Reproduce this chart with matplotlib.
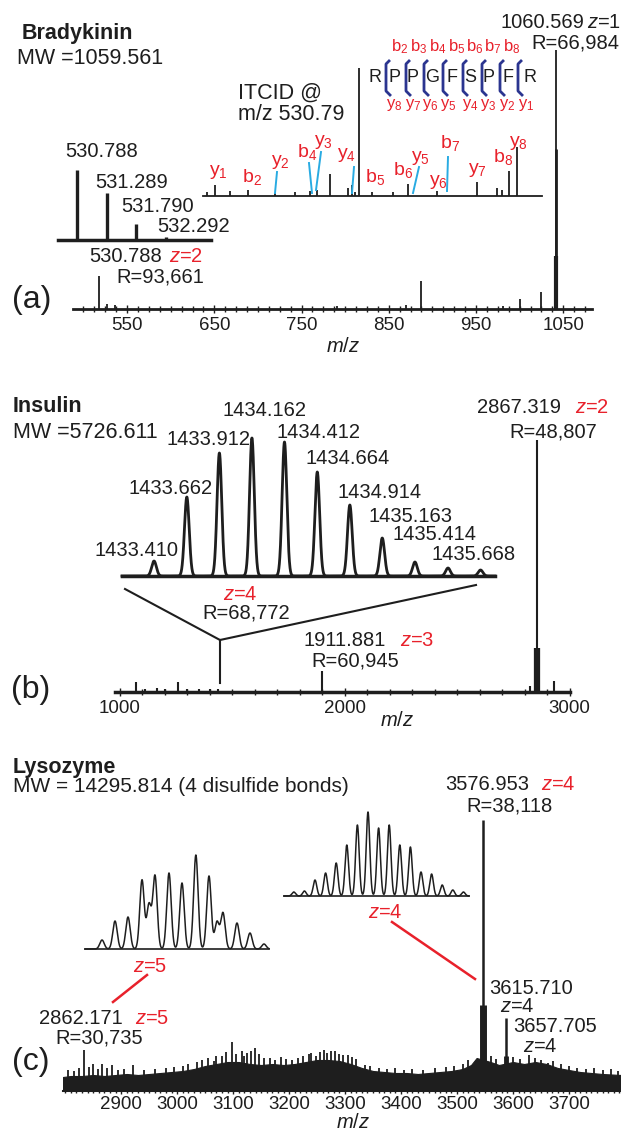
# -*- coding: utf-8 -*-
import numpy as np
import matplotlib
matplotlib.use('Agg')
import matplotlib.pyplot as plt
from matplotlib.lines import Line2D
from matplotlib.ticker import MultipleLocator

plt.rcParams['font.family'] = ['Liberation Sans', 'DejaVu Sans']
plt.rcParams['mathtext.fontset'] = 'custom'
plt.rcParams['mathtext.rm'] = 'Liberation Sans'
plt.rcParams['mathtext.it'] = 'Liberation Sans:italic'
plt.rcParams['mathtext.bf'] = 'Liberation Sans:bold'

# ---------------- data ----------------
# (a) bradykinin, full spectrum
a_mz = [518, 527, 536, 791, 870, 887, 981, 1000, 1025, 1042]
a_int = [33, 5, 4, 3, 4, 28, 3, 10, 17, 259]
a_wide_mz = [1042, 1042]
a_wide_int = [160, 53]
a_ticks = [550, 650, 750, 850, 950, 1050]

# (a) isotope cluster of 2+ precursor
iso_mz = [530.788, 531.289, 531.790, 532.292]
iso_int = [70, 47, 16, 3]
iso_labels = ['530.788', '531.289', '531.790', '532.292']

# (a) ITCID fragment spectrum
frag_mz = [156, 175.1, 211, 254.1, 320, 368, 404, 421, 453, 496, 506.3, 513,
           521.8, 555.3, 605, 642.3, 710.4, 807.4, 856, 868, 886.4, 904.5]
frag_int = [4, 11, 5, 6, 3, 4, 5, 6, 22, 8, 11, 4,
            128, 4, 4, 12, 5, 14, 8, 6, 25, 49]
frag_labels = ['y$_1$', 'b$_2$', 'y$_2$', 'b$_4$', 'y$_3$', 'y$_4$', 'b$_5$',
               'b$_6$', 'y$_5$', 'y$_6$', 'b$_7$', 'y$_7$', 'b$_8$', 'y$_8$']
seq = ['R', 'P', 'P', 'G', 'F', 'S', 'P', 'F', 'R']
seq_b = ['b$_2$', 'b$_3$', 'b$_4$', 'b$_5$', 'b$_6$', 'b$_7$', 'b$_8$']
seq_y = ['y$_8$', 'y$_7$', 'y$_6$', 'y$_5$', 'y$_4$', 'y$_3$', 'y$_2$', 'y$_1$']

# (b) insulin
b_mz = [1071, 1110, 1164, 1200, 1258, 1300, 1350, 1400, 1434, 1898, 2822, 2853, 2929]
b_int = [10, 3, 4, 3, 10, 3, 3, 3, 3, 21, 6, 252, 11]
b_wide_mz = [2853]
b_wide_int = [44]
b_ticks = [1000, 2000, 3000]

ins_mz = [1433.410, 1433.662, 1433.912, 1434.162, 1434.412, 1434.664,
          1434.914, 1435.163, 1435.414, 1435.668, 1435.918]
ins_int = [15, 79, 123, 138, 134, 104, 71, 38, 14, 8, 6]
ins_labels = ['1433.410', '1433.662', '1433.912', '1434.162', '1434.412',
              '1434.664', '1434.914', '1435.163', '1435.414', '1435.668']

# (c) lysozyme
c_env_mz = [2796, 2810, 2830, 2850, 2870, 2890, 2910, 2930, 2950, 2970, 2990,
            3010, 3030, 3050, 3070, 3090, 3110, 3130, 3150, 3170, 3190, 3210,
            3230, 3250, 3270, 3290, 3310, 3330, 3350, 3370, 3390, 3410, 3430,
            3450, 3470, 3490, 3510, 3525, 3535, 3560, 3575, 3600, 3620, 3640,
            3660, 3680, 3700, 3720, 3740, 3760, 3793]
c_env_int = [14, 15, 15, 16, 15, 16, 17, 16, 17, 18, 19,
             20, 22, 25, 27, 29, 29, 27, 26, 27, 26, 27,
             29, 31, 31, 30, 27, 23, 20, 19, 18, 18, 17,
             18, 19, 20, 22, 26, 33, 29, 26, 29, 27, 29,
             27, 23, 21, 19, 18, 17, 16]
c_spk_mz = [2805, 2815, 2825, 2834, 2843, 2849, 2858, 2866, 2875, 2884, 2895,
            2905, 2921, 2940, 2960, 2980, 2995, 3010, 3020, 3035, 3045, 3055,
            3065, 3070, 3080, 3088, 3098, 3105, 3115, 3120, 3125, 3132, 3139,
            3147, 3155, 3165, 3175, 3185, 3195, 3205, 3215, 3225, 3235, 3240,
            3248, 3255, 3262, 3268, 3275, 3282, 3290, 3297, 3305, 3312, 3320,
            3335, 3345, 3360, 3375, 3390, 3405, 3420, 3440, 3460, 3480, 3495,
            3510, 3520, 3560, 3570, 3600, 3612, 3629, 3640, 3650, 3662, 3672,
            3685, 3700, 3715, 3730, 3745, 3760, 3775, 3788]
c_spk_int = [21, 20, 23, 41, 24, 27, 22, 27, 23, 26, 21,
             22, 26, 21, 22, 23, 24, 25, 27, 29, 31, 33,
             30, 35, 35, 39, 49, 37, 40, 35, 38, 40, 43,
             37, 33, 33, 31, 34, 32, 31, 33, 35, 37, 38,
             35, 39, 41, 38, 40, 40, 37, 36, 36, 34, 32,
             26, 25, 23, 22, 23, 21, 22, 21, 23, 24, 25,
             27, 31, 35, 32, 34, 32, 36, 33, 31, 28, 30,
             27, 25, 23, 22, 23, 21, 22, 20]
c_main_mz = [3546, 3588]
c_main_int = [271, 73]
c_wide_mz = [3546, 3588]
c_wide_int = [86, 35]
c_ticks = [2900, 3000, 3100, 3200, 3300, 3400, 3500, 3600, 3700]

z5_mz = [2860.770, 2860.964, 2861.158, 2861.367, 2861.471, 2861.561, 2861.770,
         2861.964, 2862.171, 2862.367, 2862.486, 2862.576, 2862.785, 2862.979,
         2863.188]
z5_int = [9, 28, 32, 69, 44, 73, 76, 66, 94, 73, 27, 36, 26, 16, 5]

z4_mz = [3575.203, 3575.453, 3575.703, 3575.953, 3576.203, 3576.453, 3576.703,
         3576.953, 3577.203, 3577.453, 3577.703, 3577.953, 3578.203, 3578.453,
         3578.703, 3578.953, 3579.203]
z4_int = [4, 5, 16, 23, 33, 51, 71, 84, 68, 71, 51, 49, 24, 22, 11, 6, 4]

# ---------------- drawing ----------------
W, H = 621, 1130
RED = '#e8212b'
CYAN = '#29abe2'
BLUE = '#2b3590'
INK = '#1e1e1e'
LAB = 14.5

fig = plt.figure(figsize=(W / 100, H / 100), dpi=100)


def spec_axes(x0, x1, ybase, height, xlim, spine_lw):
    ax = fig.add_axes([x0 / W, 1 - ybase / H, (x1 - x0) / W, height / H])
    ax.set_xlim(*xlim)
    ax.set_ylim(0, height)
    ax.patch.set_visible(False)
    for s in ['top', 'left', 'right']:
        ax.spines[s].set_visible(False)
    ax.spines['bottom'].set_linewidth(spine_lw)
    ax.spines['bottom'].set_color(INK)
    ax.set_yticks([])
    ax.set_xticks([])
    return ax


def profile(ax, mz, inten, sigma, lw):
    lo, hi = ax.get_xlim()
    grid = np.linspace(lo, hi, 3000)
    y = np.zeros_like(grid)
    for m, h in zip(mz, inten):
        y += h * np.exp(-0.5 * ((grid - m) / sigma) ** 2)
    ax.plot(grid, y, color=INK, lw=lw, clip_on=False)


def put(x, y, s, size=LAB, color=INK, ha='center', weight='normal'):
    fig.text(x / W, 1 - y / H, s, fontsize=size, color=color, ha=ha,
             va='center', fontweight=weight)


def seg(x0, y0, x1, y1, color=INK, lw=1.5):
    fig.add_artist(Line2D([x0 / W, x1 / W], [1 - y0 / H, 1 - y1 / H],
                          color=color, lw=lw, transform=fig.transFigure))


def main_ticks(ax, ticks, minor, length=5):
    ax.set_xticks(ticks)
    ax.set_xticklabels([str(t) for t in ticks])
    ax.xaxis.set_minor_locator(MultipleLocator(minor))
    ax.tick_params(axis='x', which='both', direction='inout', width=1,
                   labelsize=13.5, pad=3, colors=INK)
    ax.tick_params(axis='x', which='major', length=length + 1)
    ax.tick_params(axis='x', which='minor', length=length - 1)


# (a) full spectrum
ax_a = spec_axes(73, 592, 309, 270, (488, 1083), 2)
ax_a.vlines(a_mz, 0, a_int, color=INK, lw=1.3)
ax_a.vlines(a_wide_mz, 0, a_wide_int, color=INK, lw=[2.0, 3.0])
main_ticks(ax_a, a_ticks, 12.5)

ax_iso = spec_axes(58, 211, 240, 80, (530.47, 533.05), 2.5)
ax_iso.vlines(iso_mz, 0, iso_int, color=INK, lw=2.4)

ax_ms2 = spec_axes(203, 542, 196, 135, (146, 965), 1.3)
ax_ms2.vlines(frag_mz, 0, frag_int, color=INK, lw=1.3)

put(22, 33, 'Bradykinin', 15.5, ha='left', weight='bold')
put(17, 58, 'MW =1059.561', 15.5, ha='left')
put(500, 22, '1060.569', LAB, ha='left')
put(587, 22, '$z$=1', LAB, ha='left')
put(531, 43, 'R=66,984', LAB, ha='left')
put(238, 93, 'ITCID @', 15.5, ha='left')
put(238, 114, 'm/z 530.79', 15.5, ha='left')

for s, (x, y) in zip(iso_labels, [(102, 152), (132, 182), (158, 207), (194, 227)]):
    put(x, y, s)
put(126, 256, '530.788')
put(186, 256, '$z$=2', color=RED)
put(160, 277, 'R=93,661')
put(32, 300, '(a)', 23)
put(343, 347, '$m/z$')

frag_pos = [(218, 172), (252, 177), (280, 162), (307, 152), (323, 142),
            (347, 155), (375, 177), (403, 170), (420, 158), (438, 182),
            (450, 143), (477, 170), (503, 157), (518, 143)]
for s, (x, y) in zip(frag_labels, frag_pos):
    put(x, y, s, 14, color=RED)
for x0, y0, x1, y1 in [(277, 172, 275, 193), (309, 163, 312, 193),
                       (321, 152, 316, 190), (354, 167, 352, 193),
                       (419, 167, 413, 193), (448, 157, 447, 191)]:
    seg(x0, y0, x1, y1, CYAN, 1.4)

for s, x in zip(seq, [375, 394, 413, 432, 452, 470, 488, 508, 530]):
    put(x, 78, s, 13)
for s, x in zip(seq_b, [400, 419, 438, 457, 475, 493, 512]):
    put(x, 47, s, 12, color=RED)
for s, x in zip(seq_y, [394, 413, 430, 448, 470, 488, 507, 526]):
    put(x, 105, s, 12, color=RED)
for x in [386, 406, 424, 443, 463, 482, 500, 518]:
    xs = [x + 3, x, x, x + 4]
    ys = [61, 64, 91, 95]
    fig.add_artist(Line2D([v / W for v in xs], [1 - v / H for v in ys],
                          color=BLUE, lw=2.0, transform=fig.transFigure))

# (b) insulin
ax_b = spec_axes(115, 570, 692, 260, (978, 3001), 2.5)
ax_b.vlines(b_mz, 0, b_int, color=INK, lw=1.5)
ax_b.vlines(b_wide_mz, 0, b_wide_int, color=INK, lw=4.5)
main_ticks(ax_b, b_ticks, 100)

ax_ins = spec_axes(122, 495, 576, 145, (1433.164, 1436.029), 2.5)
profile(ax_ins, ins_mz, ins_int, 0.018, 2.0)

put(13, 407, 'Insulin', 15.5, ha='left', weight='bold')
put(13, 432, 'MW =5726.611', 15.5, ha='left')
ins_pos = [(137, 550), (171, 488), (209, 440), (265, 411), (318, 432),
           (348, 459), (380, 492), (410, 516), (434, 535), (474, 554)]
for s, (x, y) in zip(ins_labels, ins_pos):
    put(x, y, s)
put(240, 595, '$z$=4', color=RED)
put(246, 613, 'R=68,772')
put(345, 640, '1911.881')
put(417, 640, '$z$=3', color=RED)
put(355, 661, 'R=60,945')
put(519, 408, '2867.319')
put(592, 408, '$z$=2', color=RED)
put(553, 432, 'R=48,807')
put(31, 690, '(b)', 23)
put(397, 721, '$m/z$')
seg(220, 640, 220, 683, INK, 1.5)
seg(220, 640, 125, 589, INK, 1.5)
seg(220, 640, 476, 585, INK, 1.5)

# (c) lysozyme
ax_c = spec_axes(63, 621, 1091, 280, (2796, 3793), 1.5)
ax_c.fill_between(c_env_mz, 0, c_env_int, color=INK, lw=0.8)
ax_c.vlines(c_spk_mz, 0, c_spk_int, color=INK, lw=1.3)
ax_c.vlines(c_main_mz, 0, c_main_int, color=INK, lw=1.8)
ax_c.vlines(c_wide_mz, 0, c_wide_int, color=INK, lw=[5, 3.5])
main_ticks(ax_c, c_ticks, 10, length=4)
ax_c.tick_params(axis='x', pad=1)

ax_z5 = spec_axes(85, 269, 949, 100, (2860.516, 2863.263), 1.2)
profile(ax_z5, z5_mz, z5_int, 0.033, 1.1)
ax_z4 = spec_axes(284, 469, 896, 95, (3574.972, 3579.335), 1.2)
profile(ax_z4, z4_mz, z4_int, 0.042, 1.1)

put(13, 767, 'Lysozyme', 15.5, ha='left', weight='bold')
put(13, 787, 'MW = 14295.814 (4 disulfide bonds)', 15, ha='left')
put(487, 785, '3576.953')
put(558, 785, '$z$=4', color=RED)
put(510, 806, 'R=38,118')
put(150, 967, '$z$=5', color=RED)
put(385, 912, '$z$=4', color=RED)
put(531, 989, '3615.710')
put(517, 1007, '$z$=4')
put(555, 1027, '3657.705')
put(540, 1046, '$z$=4')
put(81, 1018, '2862.171')
put(152, 1018, '$z$=5', color=RED)
put(99, 1038, 'R=30,735')
put(31, 1062, '(c)', 23)
put(353, 1122, '$m/z$')
seg(147, 975, 113, 1002, RED, 1.8)
seg(392, 922, 475, 979, RED, 1.8)

fig.savefig('out.png', dpi=100, facecolor='white')
